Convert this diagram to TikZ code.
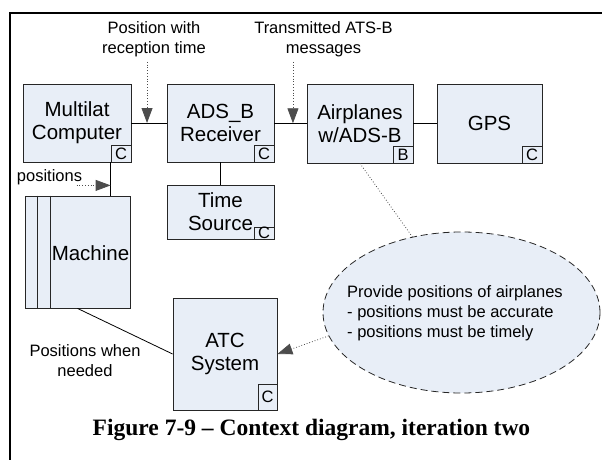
\documentclass[tikz,border=0pt]{standalone}
\usepackage{fontspec}
\setmainfont{Liberation Sans}
\newfontfamily\capfont{Liberation Serif}
\usetikzlibrary{arrows.meta,shapes.geometric,calc}
\definecolor{boxfill}{RGB}{232,238,247}
\begin{document}
\begin{tikzpicture}[x=1pt,y=-1pt,
  box/.style={draw=black!85, fill=boxfill, line width=0.8pt, inner sep=0pt, align=center, font=\fontsize{20.5}{23}\selectfont},
  cbox/.style={draw=black!85, fill=boxfill, line width=0.8pt, inner sep=0pt, anchor=south east, font=\fontsize{16.5}{16.5}\selectfont, minimum width=20pt, minimum height=17pt},
  lbl/.style={align=center, font=\fontsize{16.5}{20}\selectfont, inner sep=0pt},
  link/.style={draw=black, line width=0.8pt},
  note/.style={draw=black!70, dotted, line width=0.8pt},
  tip/.style={-{Triangle[length=15pt,width=11pt]}}]
\useasboundingbox (0,0) rectangle (602,460);
\draw[line width=2pt] (10,460) -- (10,13) -- (602,13);

% boxes
\node[box, minimum width=108pt, minimum height=78pt] (mc) at (77,123) {Multilat\\Computer};
\node[box, minimum width=107pt, minimum height=78pt] (adsb) at (220.5,123) {ADS\_B\\Receiver};
\node[box, minimum width=106pt, minimum height=79pt] (air) at (360,123.5) {Airplanes\\w/ADS-B};
\node[box, minimum width=105pt, minimum height=79pt] (gps) at (489.5,123.5) {GPS};
\node[box, minimum width=107pt, minimum height=54pt] (ts) at (220.5,212) {Time\\Source};
\node[box, minimum width=105pt, minimum height=112pt] (mach) at (77.5,252) {};
\node[box, minimum width=104pt, minimum height=112pt] (atc) at (225,354) {ATC\\System};

% category boxes
\node[cbox] (cmc) at (mc.south east) {C};
\node[cbox] (cadsb) at (adsb.south east) {C};
\node[cbox] (cair) at (air.south east) {B};
\node[cbox] (cgps) at (gps.south east) {C};
\node[cbox, minimum height=12pt] (cts) at (ts.south east) {C};
\node[cbox, minimum width=19pt, minimum height=26pt] (catc) at (atc.south east) {C};

% machine inner lines and text
\draw[line width=0.8pt, draw=black!85] ([xshift=13pt]mach.north west) -- ([xshift=13pt]mach.south west);
\draw[line width=0.8pt, draw=black!85] ([xshift=26pt]mach.north west) -- ([xshift=26pt]mach.south west);
\node[lbl, font=\fontsize{20.5}{23}\selectfont] (machtxt) at (90.5,253) {Machine};

% ellipse
\node[ellipse, draw=black!85, dash pattern=on 7pt off 4pt, fill=boxfill, line width=0.8pt, minimum width=277pt, minimum height=161pt, inner sep=0pt] (ell) at (461.5,312.5) {};
\node[lbl, align=left] (elltxt) at (455,313) {Provide positions of airplanes\\- positions must be accurate\\- positions must be timely};

% solid connectors
\draw[link] (mc.east) -- (adsb.west);
\draw[link] (adsb.east) -- (adsb.east -| air.west);
\draw[link] (air.east) -- (gps.west);
\draw[link] (adsb.south) -- (ts.north);
\draw[link] (cmc.south west) -- (cmc.south west |- mach.north);
\draw[link] (mach.south) -- (atc.west);

% labels with dotted arrows
\node[lbl] (l1) at (154,39) {Position with\\reception time};
\node[lbl] (l2) at (323.5,39) {Transmitted ATS-B\\messages};
\coordinate (a1) at ($(mc.east)!0.444!(adsb.west)$);
\coordinate (a2) at ($(adsb.east)!0.576!(air.west)$);
\draw[note, tip] ($(l1.south -| a1)+(0,5)$) -- (a1);
\draw[note, tip] ($(l2.south -| a2)+(0,5)$) -- (a2);

\node[lbl] (pos) at (49.5,177) {positions};
\coordinate (p) at ($(cmc.south west)+(0,23)$);
\draw[note, tip] ($(p)+(-34,0)$) -- (p);

\node[lbl] (pwn) at (85,361) {Positions when\\needed};

\draw[note] (air.south) -- (ell.123);
\draw[note, tip] (ell.190.6) -- (atc.east);

% caption
\node[font=\capfont\bfseries\fontsize{23.5}{26}\selectfont, anchor=base, inner sep=0pt] (cap) at (311.5,435) {Figure 7-9 – Context diagram, iteration two};
\end{tikzpicture}
\end{document}
